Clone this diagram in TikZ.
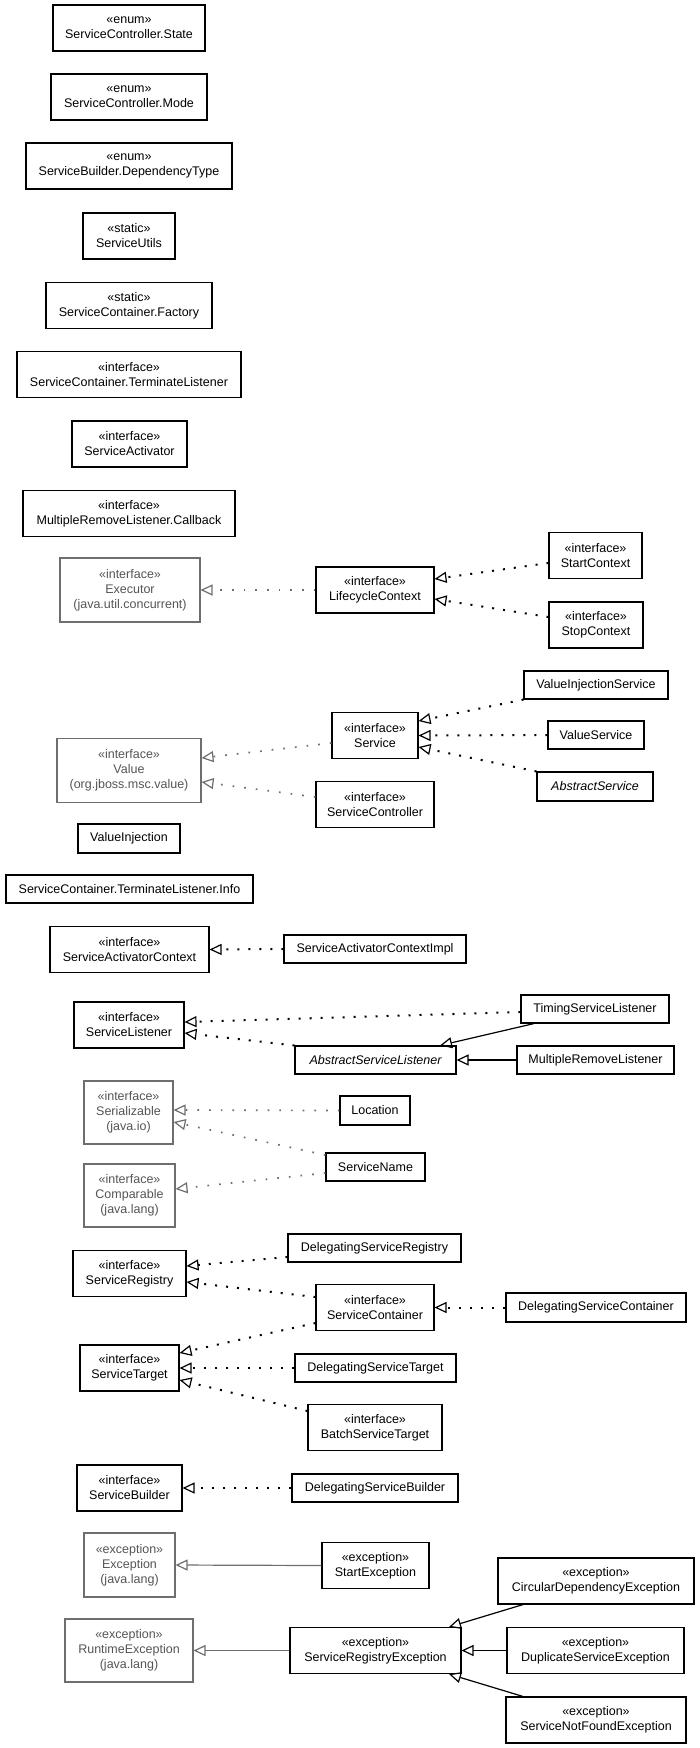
\documentclass[tikz,border=0pt]{standalone}
\usepackage{fontspec}
\setmainfont{Liberation Sans}
\usetikzlibrary{arrows.meta}
\definecolor{gline}{RGB}{110,110,110}
\definecolor{gtext}{RGB}{85,85,85}
\begin{document}
\begin{tikzpicture}[x=1pt,y=-1pt,
  cls/.style={draw=black, line width=1.1pt, fill=white, inner sep=1pt, align=center,
    font=\fontsize{12.5}{15}\selectfont},
  ext/.style={cls, draw=gline, text=gtext},
  wh/.style 2 args={minimum width=#1, minimum height=#2},
  tip/.style={-{Triangle[open,length=12pt,width=11pt,line width=1.2pt]}},
  real/.style={tip, draw=black, line width=2pt, dash pattern=on 2pt off 9pt},
  greal/.style={tip, draw=gline, line width=1.7pt, dash pattern=on 1.7pt off 10pt},
  gen/.style={tip, draw=black, line width=1.2pt},
  ggen/.style={tip, draw=gline, line width=1.2pt}]
\useasboundingbox (0,0) rectangle (699,1748);
% left column
\node[cls,wh={152}{46}] (state) at (129,28) {«enum»\\ServiceController.State};
\node[cls,wh={156}{46}] (mode) at (129,97) {«enum»\\ServiceController.Mode};
\node[cls,wh={206}{46}] (deptype) at (129,166) {«enum»\\ServiceBuilder.DependencyType};
\node[cls,wh={92}{46}] (utils) at (129,236) {«static»\\ServiceUtils};
\node[cls,wh={166}{46}] (factory) at (129,305.5) {«static»\\ServiceContainer.Factory};
\node[cls,wh={224}{46}] (termlist) at (129,374.5) {«interface»\\ServiceContainer.TerminateListener};
\node[cls,wh={115}{46}] (activator) at (129.5,444) {«interface»\\ServiceActivator};
\node[cls,wh={212}{46}] (callback) at (129,513.5) {«interface»\\MultipleRemoveListener.Callback};
\node[ext,wh={140}{64}] (executor) at (130,590) {«interface»\\Executor\\(java.util.concurrent)};
\node[cls,wh={118}{46}] (lifecycle) at (375,590) {«interface»\\LifecycleContext};
\node[cls,wh={93}{46}] (startctx) at (595.5,555.5) {«interface»\\StartContext};
\node[cls,wh={94}{46}] (stopctx) at (596,625) {«interface»\\StopContext};
\node[cls,wh={144}{28}] (vis) at (596,685) {ValueInjectionService};
\node[cls,wh={86}{46}] (service) at (375,735.5) {«interface»\\Service};
\node[cls,wh={96}{28}] (valueservice) at (596,735) {ValueService};
\node[cls,wh={116}{29}] (abstractservice) at (595,786.5) {\itshape AbstractService};
\node[ext,wh={144}{64}] (value) at (129,770.5) {«interface»\\Value\\(org.jboss.msc.value)};
\node[cls,wh={118}{46}] (controller) at (375,804.5) {«interface»\\ServiceController};
\node[cls,wh={102}{29}] (valueinjection) at (129,838.5) {ValueInjection};
\node[cls,wh={247}{28}] (info) at (129.5,889) {ServiceContainer.TerminateListener.Info};
\node[cls,wh={159}{46}] (sac) at (129.5,949.5) {«interface»\\ServiceActivatorContext};
\node[cls,wh={182}{28}] (saci) at (375,949) {ServiceActivatorContextImpl};
\node[cls,wh={110}{46}] (sl) at (129,1025) {«interface»\\ServiceListener};
\node[cls,wh={148}{28}] (tsl) at (595,1009) {TimingServiceListener};
\node[cls,wh={161}{28}] (asl) at (375.5,1060) {\itshape AbstractServiceListener};
\node[cls,wh={157}{28}] (mrl) at (595.5,1060) {MultipleRemoveListener};
\node[ext,wh={89}{63}] (serializable) at (128.5,1112.5) {«interface»\\Serializable\\(java.io)};
\node[cls,wh={70}{29}] (location) at (375,1110.5) {Location};
\node[cls,wh={99}{28}] (servicename) at (375.5,1167) {ServiceName};
\node[ext,wh={91}{63}] (comparable) at (129.5,1195.5) {«interface»\\Comparable\\(java.lang)};
\node[cls,wh={173}{28}] (dsr) at (374.5,1248) {DelegatingServiceRegistry};
\node[cls,wh={113}{46}] (sr) at (129.5,1273.5) {«interface»\\ServiceRegistry};
\node[cls,wh={118}{46}] (sc) at (375,1307.5) {«interface»\\ServiceContainer};
\node[cls,wh={180}{29}] (dsc) at (596,1307.5) {DelegatingServiceContainer};
\node[cls,wh={99}{46}] (st) at (129.5,1368) {«interface»\\ServiceTarget};
\node[cls,wh={161}{28}] (dst) at (375.5,1368) {DelegatingServiceTarget};
\node[cls,wh={134}{46}] (bst) at (375,1427.5) {«interface»\\BatchServiceTarget};
\node[cls,wh={105}{46}] (sb) at (129.5,1488) {«interface»\\ServiceBuilder};
\node[cls,wh={166}{28}] (dsb) at (375,1488) {DelegatingServiceBuilder};
\node[ext,wh={91}{64}] (exception) at (129.5,1565) {«exception»\\Exception\\(java.lang)};
\node[cls,wh={107}{46}] (startexc) at (375.5,1565.5) {«exception»\\StartException};
\node[cls,wh={196}{46}] (circ) at (596,1581) {«exception»\\CircularDependencyException};
\node[ext,wh={128}{63}] (runtime) at (129,1650.5) {«exception»\\RuntimeException\\(java.lang)};
\node[cls,wh={171}{46}] (sre) at (375.5,1650.5) {«exception»\\ServiceRegistryException};
\node[cls,wh={177}{46}] (dup) at (595.5,1650.5) {«exception»\\DuplicateServiceException};
\node[cls,wh={180}{46}] (snf) at (596,1720) {«exception»\\ServiceNotFoundException};
% connectors
\draw[greal] (lifecycle.west) -- (executor.east);
\draw[real] ([yshift=-7.5pt]startctx.west) -- ([yshift=11pt]lifecycle.east);
\draw[real] ([yshift=8pt]stopctx.west) -- ([yshift=-9pt]lifecycle.east);
\draw[greal] ([yshift=-7.5pt]service.west) -- ([yshift=12.5pt]value.east);
\draw[greal] ([yshift=7.5pt]controller.west) -- ([yshift=-11.5pt]value.east);
\draw[real] (vis.south west) -- ([yshift=14.5pt]service.east);
\draw[real] (valueservice.west) -- (service.east);
\draw[real] (abstractservice.north west) -- ([yshift=-11.5pt]service.east);
\draw[real] (saci.west) -- (sac.east);
\draw[real] ([yshift=-3pt]tsl.west) -- ([yshift=3pt]sl.east);
\draw[real] (asl.north west) -- ([yshift=-8pt]sl.east);
\draw[gen] ([xshift=-61pt]tsl.south) -- ([xshift=64.5pt]asl.north);
\draw[gen] (mrl.west) -- (asl.east);
\draw[greal] (location.west) -- ([yshift=2.5pt]serializable.east);
\draw[greal] ([yshift=12pt]servicename.west) -- ([yshift=-9.5pt]serializable.east);
\draw[greal] ([yshift=-6pt]servicename.west) -- ([yshift=6.5pt]comparable.east);
\draw[real] ([yshift=-9pt]dsr.west) -- ([yshift=7.5pt]sr.east);
\draw[real] ([yshift=10.5pt]sc.west) -- ([yshift=-8.5pt]sr.east);
\draw[real] (dsc.west) -- (sc.east);
\draw[real] ([yshift=-15.5pt]sc.west) -- ([yshift=15pt]st.east);
\draw[real] (dst.west) -- (st.east);
\draw[real] ([yshift=16.5pt]bst.west) -- ([yshift=-12pt]st.east);
\draw[real] (dsb.west) -- (sb.east);
\draw[ggen] (startexc.west) -- (exception.east);
\draw[ggen] (sre.west) -- (runtime.east);
\draw[gen] ([xshift=-73pt]circ.south) -- ([xshift=73.5pt]sre.north);
\draw[gen] (dup.west) -- (sre.east);
\draw[gen] ([xshift=-73pt]snf.north) -- ([xshift=73.5pt]sre.south);
\end{tikzpicture}
\end{document}
